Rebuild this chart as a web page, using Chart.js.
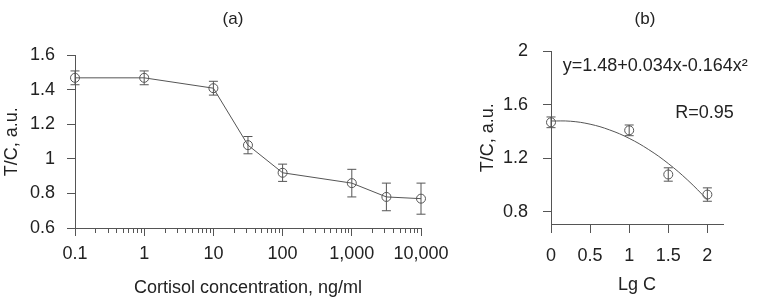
<!DOCTYPE html>
<html>
<head>
<meta charset="utf-8">
<script src="https://cdn.jsdelivr.net/npm/chart.js@4"></script>
<style>
  body { margin: 0; background: #fff; }
  canvas { position: absolute; top: 0; }
</style>
</head>
<body>
<canvas id="chart-a" width="460" height="304" style="left:0"></canvas>
<canvas id="chart-b" width="319" height="304" style="left:440px"></canvas>
<script>
// panel (a): T/C vs cortisol concentration
const concA = [0.1, 1, 10, 31.6, 100, 1000, 3162, 10000];
const ratioA = [1.47, 1.47, 1.41, 1.08, 0.92, 0.86, 0.78, 0.77];
const errA = [0.04, 0.04, 0.04, 0.05, 0.05, 0.08, 0.08, 0.09];
const xTicksA = [0.1, 1, 10, 100, 1000, 10000];
const xLabelsA = ['0.1', '1', '10', '100', '1,000', '10,000'];
const yTicksA = [0.6, 0.8, 1, 1.2, 1.4, 1.6];

// panel (b): T/C vs Lg C with fitted curve
const lgC = [0, 1, 1.5, 2];
const ratioB = [1.47, 1.41, 1.08, 0.93];
const errB = [0.04, 0.04, 0.05, 0.05];
const fitX = [0, 0.25, 0.5, 0.75, 1, 1.25, 1.5, 1.75, 2];
const fitY = [1.48, 1.478, 1.456, 1.413, 1.35, 1.266, 1.162, 1.037, 0.892];
const xTicksB = [0, 0.5, 1, 1.5, 2];
const yTicksB = [0.8, 1.2, 1.6, 2];
const notesB = ['y=1.48+0.034x-0.164x²', 'R=0.95'];

const ink = '#555';
const textInk = '#222';
const family = '"Liberation Sans", Arial, sans-serif';
Chart.defaults.font.family = family;
Chart.defaults.color = textInk;

const errorBars = {
  id: 'errorBars',
  afterDatasetsDraw(chart) {
    const ctx = chart.ctx;
    chart.data.datasets.forEach((ds, i) => {
      if (!ds.errors) return;
      const meta = chart.getDatasetMeta(i);
      const ys = chart.scales[meta.yAxisID];
      ctx.save();
      ctx.strokeStyle = ink;
      ctx.lineWidth = 1;
      meta.data.forEach((pt, j) => {
        const v = ds.data[j].y, e = ds.errors[j];
        const top = ys.getPixelForValue(v + e), bot = ys.getPixelForValue(v - e);
        ctx.beginPath();
        ctx.moveTo(pt.x, top); ctx.lineTo(pt.x, bot);
        ctx.moveTo(pt.x - 4.5, top); ctx.lineTo(pt.x + 4.5, top);
        ctx.moveTo(pt.x - 4.5, bot); ctx.lineTo(pt.x + 4.5, bot);
        ctx.stroke();
      });
      ctx.restore();
    });
  }
};

// move the chart title sideways
const titleShift = {
  id: 'titleShift',
  afterLayout(chart, args, opts) {
    const t = chart.titleBlock;
    if (t && opts.dx) { t.left += opts.dx; t.right += opts.dx; }
  }
};

// text placed at data coordinates
const notes = {
  id: 'notes',
  afterDraw(chart, args, opts) {
    if (!opts.items) return;
    const ctx = chart.ctx;
    ctx.save();
    ctx.fillStyle = textInk;
    ctx.font = '18px ' + family;
    ctx.textAlign = 'left';
    ctx.textBaseline = 'middle';
    opts.items.forEach(it => {
      ctx.fillText(it.text, chart.scales.x.getPixelForValue(it.x), chart.scales.y.getPixelForValue(it.y));
    });
    ctx.restore();
  }
};

const noPadX = s => { s.paddingLeft = 0; s.paddingRight = 0; };
const noPadY = s => { s.paddingTop = 0; s.paddingBottom = 0; };
const plainNum = v => String(+v.toFixed(3));

// log ticks: 1..9 in every decade, labels only on the decades
const logTicks = () => {
  const out = [];
  for (let d = 0; d < xTicksA.length - 1; d++) {
    for (let k = 1; k <= 9; k++) out.push(+(k * xTicksA[d]).toPrecision(6));
  }
  out.push(xTicksA[xTicksA.length - 1]);
  return out;
};
const isDecade = v => xTicksA.indexOf(v) >= 0;

const tickFont = { size: 18 };
const titleFont = { size: 18 };

new Chart(document.getElementById('chart-a'), {
  type: 'line',
  data: {
    datasets: [{
      data: concA.map((c, i) => ({ x: c, y: ratioA[i] })),
      errors: errA,
      borderColor: ink,
      borderWidth: 1,
      pointRadius: 4.5,
      pointBorderWidth: 1,
      pointBorderColor: ink,
      pointBackgroundColor: 'rgba(0,0,0,0)',
      clip: false
    }]
  },
  plugins: [errorBars, titleShift],
  options: {
    responsive: false,
    animation: false,
    layout: { padding: { left: 0, right: 39, top: 0, bottom: 0 } },
    scales: {
      x: {
        type: 'logarithmic',
        min: 0.1,
        max: 10000,
        afterBuildTicks: s => { s.ticks = logTicks().map(v => ({ value: v })); },
        afterFit: s => { s.height = 76; noPadX(s); },
        grid: {
          drawOnChartArea: false, tickLength: 8, color: ink,
          tickBorderDash: ctx => (ctx.tick && isDecade(ctx.tick.value)) ? [] : [4, 20]
        },
        border: { color: ink },
        ticks: {
          autoSkip: false, maxRotation: 0, padding: 7, font: tickFont,
          callback: v => isDecade(v) ? xLabelsA[xTicksA.indexOf(v)] : ''
        },
        title: { display: true, text: 'Cortisol concentration, ng/ml', font: titleFont, padding: { top: 0, bottom: 5 } }
      },
      y: {
        min: 0.6,
        max: 1.6,
        afterBuildTicks: s => { s.ticks = yTicksA.map(v => ({ value: v })); },
        afterFit: s => { s.width = 75; noPadY(s); },
        grid: { drawOnChartArea: false, tickLength: 8, color: ink },
        border: { color: ink },
        ticks: { padding: 12, font: tickFont, callback: plainNum },
        title: { display: true, text: 'T/C, a.u.', font: titleFont, padding: { top: 1, bottom: 0 } }
      }
    },
    plugins: {
      legend: { display: false },
      tooltip: { enabled: false },
      title: { display: true, text: '(a)', font: { size: 17, weight: 'normal' }, padding: { top: 9, bottom: 26 } },
      titleShift: { dx: 22.5 }
    }
  }
});

new Chart(document.getElementById('chart-b'), {
  type: 'line',
  data: {
    datasets: [{
      data: fitX.map((x, i) => ({ x: x, y: fitY[i] })),
      borderColor: ink,
      borderWidth: 1,
      pointRadius: 0,
      tension: 0.4,
      clip: false
    }, {
      data: lgC.map((x, i) => ({ x: x, y: ratioB[i] })),
      errors: errB,
      showLine: false,
      pointRadius: 4.5,
      pointBorderWidth: 1,
      pointBorderColor: ink,
      pointBackgroundColor: 'rgba(0,0,0,0)',
      clip: false
    }]
  },
  plugins: [errorBars, titleShift, notes],
  options: {
    responsive: false,
    animation: false,
    layout: { padding: { left: 36, right: 36, top: 0, bottom: 0 } },
    scales: {
      x: {
        type: 'linear',
        min: 0,
        max: 2.2,
        afterBuildTicks: s => { s.ticks = xTicksB.map(v => ({ value: v })); },
        afterFit: s => { s.height = 80; noPadX(s); },
        grid: { drawOnChartArea: false, tickLength: 9, color: ink },
        border: { color: ink },
        ticks: { autoSkip: false, maxRotation: 0, padding: 12, font: tickFont, callback: plainNum },
        title: { display: true, text: 'Lg C', font: titleFont, padding: { top: 0, bottom: 8 } }
      },
      y: {
        min: 0.71,
        max: 2,
        afterBuildTicks: s => { s.ticks = yTicksB.map(v => ({ value: v })); },
        afterFit: s => { s.width = 75; noPadY(s); },
        grid: { drawOnChartArea: false, tickLength: 8, color: ink },
        border: { color: ink },
        ticks: { padding: 15, font: tickFont, callback: plainNum },
        title: { display: true, text: 'T/C, a.u.', font: titleFont, padding: { top: 1, bottom: 0 } }
      }
    },
    plugins: {
      legend: { display: false },
      tooltip: { enabled: false },
      title: { display: true, text: '(b)', font: { size: 17, weight: 'normal' }, padding: { top: 9, bottom: 22 } },
      titleShift: { dx: 45.5 },
      notes: {
        items: [
          { text: notesB[0], x: 0.15, y: 1.89 },
          { text: notesB[1], x: 1.59, y: 1.54 }
        ]
      }
    }
  }
});
</script>
</body>
</html>
